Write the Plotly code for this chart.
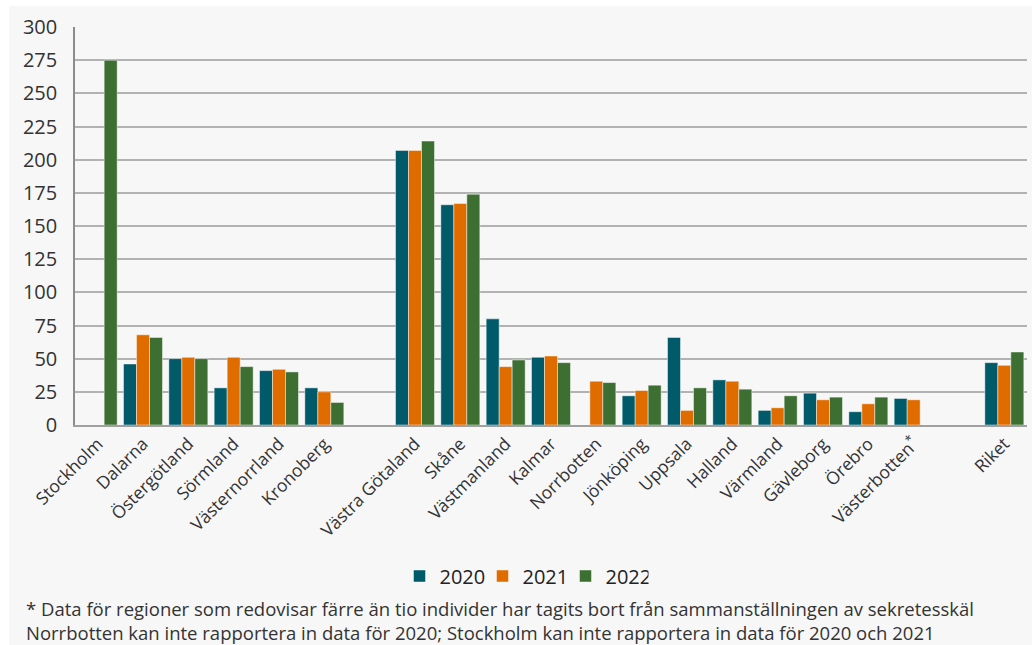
import plotly.graph_objects as go

# Regions (blank entries separate the groups on the axis)
regions = [
    "Stockholm", "Dalarna", "Östergötland", "Sörmland", "Västernorrland", "Kronoberg",
    " ",
    "Västra Götaland", "Skåne", "Västmanland", "Kalmar", "Norrbotten", "Jönköping",
    "Uppsala", "Halland", "Värmland", "Gävleborg", "Örebro", "Västerbotten*",
    "  ",
    "Riket",
]
region_labels = [r if r != "Västerbotten*" else "Västerbotten<sup>*</sup>" for r in regions]

values_2020 = [None, 46, 50, 28, 41, 28, None, 207, 166, 80, 51, None, 22, 66, 34, 11, 24, 10, 20, None, 47]
values_2021 = [None, 68, 51, 51, 42, 25, None, 207, 167, 44, 52, 33, 26, 11, 33, 13, 19, 16, 19, None, 45]
values_2022 = [275, 66, 50, 44, 40, 17, None, 214, 174, 49, 47, 32, 30, 28, 27, 22, 21, 21, None, None, 55]

years = ["2020", "2021", "2022"]
series = [values_2020, values_2021, values_2022]
colors = ["#015a69", "#e06c00", "#3d6f32"]

y_ticks = list(range(0, 301, 25))

footnote = (
    "* Data för regioner som redovisar färre än tio individer har tagits bort från sammanställningen av sekretesskäl<br>"
    "Norrbotten kan inte rapportera in data för 2020; Stockholm kan inte rapportera in data för 2020 och 2021"
)

FONT = "'Open Sans', Lato, sans-serif"

fig = go.Figure()
for name, vals, col in zip(years, series, colors):
    fig.add_trace(go.Bar(
        x=regions, y=vals, name=name,
        marker=dict(color=col, line=dict(color="rgba(255,255,255,0.45)", width=1)),
    ))

W, H = 1032, 645
L, R, T, B = 75, 5, 27, 220
pw, ph = W - L - R, H - T - B

def px_x(p):
    return (p - L) / pw

def px_y(p):
    return (H - B - p) / ph

fig.update_layout(
    width=W, height=H,
    margin=dict(l=L, r=R, t=T, b=B),
    paper_bgcolor="white",
    plot_bgcolor="rgba(0,0,0,0)",
    barmode="group",
    bargap=0.14,
    bargroupgap=0.0,
    font=dict(family=FONT, color="#333333"),
    showlegend=True,
    legend=dict(
        orientation="h", x=px_x(524), xanchor="center", y=px_y(576), yanchor="middle",
        font=dict(size=20, color="#222222", family=FONT), bgcolor="rgba(0,0,0,0)",
        itemwidth=30, tracegroupgap=0, entrywidth=38, entrywidthmode="pixels",
    ),
    xaxis=dict(
        type="category", categoryorder="array", categoryarray=regions,
        tickvals=regions, ticktext=region_labels,
        tickangle=-45, tickfont=dict(size=17.5, color="#333333", family=FONT),
        showgrid=False, showline=True, linecolor="#a0a0a0", linewidth=1.5,
        ticks="", range=[-0.5, len(regions) - 0.5],
    ),
    yaxis=dict(
        range=[0, 300], tickvals=y_ticks,
        tickfont=dict(size=20, color="#333333", family=FONT),
        showgrid=True, gridcolor="#b2b2b2", gridwidth=1.5,
        showline=True, linecolor="#8c8c8c", linewidth=1.5,
        zeroline=False, ticks="", ticklen=0, ticklabelstandoff=12,
    ),
    shapes=[dict(
        type="rect", xref="paper", yref="paper",
        x0=px_x(9), x1=px_x(W + 2), y0=px_y(H + 2), y1=px_y(6),
        fillcolor="#f7f7f7", line=dict(width=0), layer="below",
    )],
    annotations=[dict(
        text=footnote, xref="paper", yref="paper",
        x=px_x(24), y=px_y(594), xanchor="left", yanchor="top",
        align="left", showarrow=False,
        font=dict(size=18.5, color="#333333", family=FONT),
    )],
)

fig.write_html("out.html")
